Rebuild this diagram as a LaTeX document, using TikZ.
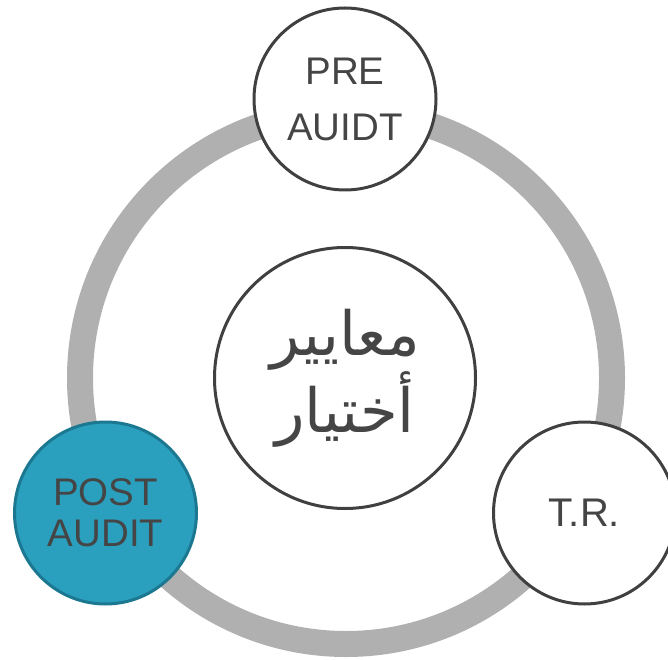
\documentclass[tikz,border=0pt]{standalone}
\usepackage{fontspec}
\setmainfont{Liberation Sans}
\newfontfamily\arabicfont[Script=Arabic]{DejaVu Sans}
\TeXXeTstate=1
\definecolor{ringgray}{HTML}{B0B0B0}
\definecolor{darkline}{HTML}{404040}
\definecolor{textgray}{HTML}{454545}
\definecolor{postblue}{HTML}{2AA0BE}
\definecolor{postedge}{HTML}{1C7891}

\begin{document}
\begin{tikzpicture}[x=1pt,y=1pt]
                      \tikzstyle{stage}=[circle,draw=darkline,line width=3pt,fill=white,inner sep=0pt,minimum size=182pt,text=textgray,align=center,font=\fontsize{38.5}{56}\selectfont]
                      \useasboundingbox (0,0) rectangle (668,659);
                      \draw[ringgray,line width=26pt] (346,281) circle (266pt);
                      \node[stage,minimum size=261pt,font=\fontsize{61}{64}\selectfont\arabicfont] (center) at (345,281) {\beginR معايير\endR\\\beginR أختيار\endR};
                      \node[stage] (pre) at (345,560) {PRE\\AUIDT};
                      \node[stage,font=\fontsize{40}{48}\selectfont] (tr) at (584.5,146) {T.R.};
                      \node[stage,fill=postblue,draw=postedge,font=\fontsize{38.5}{41}\selectfont] (post) at (105.5,146) {POST\\AUDIT};
                  \end{tikzpicture}
\end{document}
